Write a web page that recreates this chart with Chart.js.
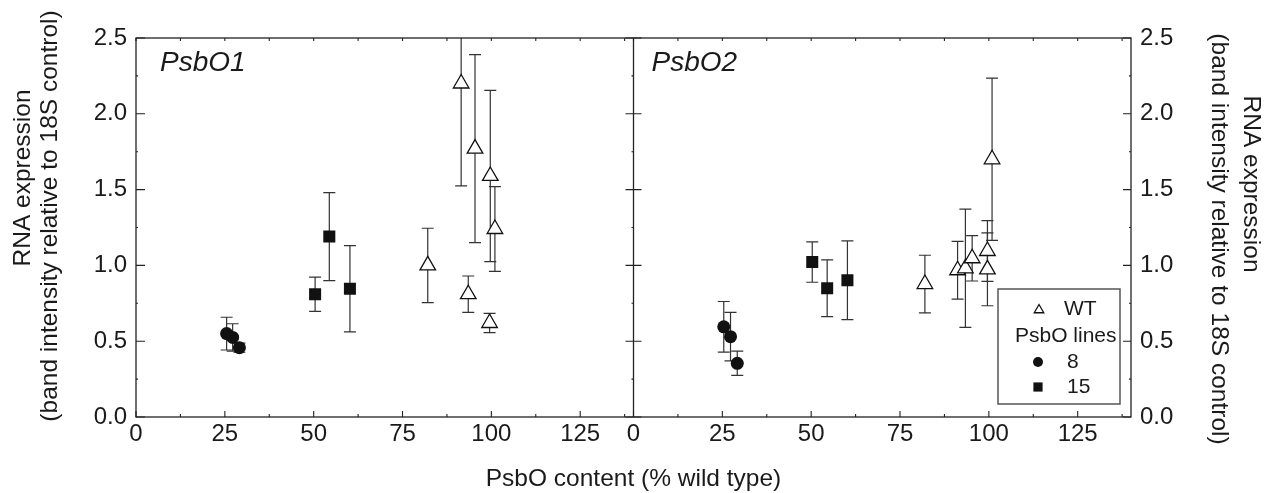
<!DOCTYPE html>
<html><head><meta charset="utf-8">
<script src="https://cdn.jsdelivr.net/npm/chart.js@4.4.1/dist/chart.umd.min.js"></script>
<style>html,body{margin:0;padding:0;background:#fff}canvas{display:block}</style>
</head><body>
<canvas id="c" width="1272" height="493"></canvas>
<script>
// ---------- data ----------
const panelLabels = ['PsbO1', 'PsbO2'];
const xTickValues = [0, 25, 50, 75, 100, 125];
const xMinorTickValues = [12.5, 37.5, 62.5, 87.5, 112.5, 137.5];
const yTickValues = [0, 0.5, 1, 1.5, 2, 2.5];
const yMinorTickValues = [0.25, 0.75, 1.25, 1.75, 2.25];

// PsbO1 panel
const p1WtX  = [82.1, 91.5, 95.4, 99.7, 101.0, 93.5, 99.5];
const p1WtY  = [1.00, 2.20, 1.77, 1.59, 1.24, 0.81, 0.62];
const p1WtErr = [0.245, 0.675, 0.62, 0.565, 0.28, 0.12, 0.063];
const p1L8X  = [25.5, 27.2, 29.1];
const p1L8Y  = [0.55, 0.525, 0.457];
const p1L8Err = [0.108, 0.09, 0.03];
const p1L15X = [50.4, 54.4, 60.2];
const p1L15Y = [0.81, 1.19, 0.846];
const p1L15Err = [0.113, 0.29, 0.285];

// PsbO2 panel
const p2WtX  = [82.0, 91.2, 93.4, 95.3, 99.6, 99.6, 100.9];
const p2WtY  = [0.877, 0.968, 0.981, 1.047, 1.095, 0.974, 1.70];
const p2WtErr = [0.19, 0.19, 0.39, 0.15, 0.20, 0.24, 0.535];
const p2L8X  = [25.4, 27.3, 29.2];
const p2L8Y  = [0.595, 0.53, 0.354];
const p2L8Err = [0.167, 0.16, 0.08];
const p2L15X = [50.3, 54.5, 60.2];
const p2L15Y = [1.022, 0.849, 0.902];
const p2L15Err = [0.133, 0.187, 0.26];

const legendLabels = ['WT', 'PsbO lines', '8', '15'];
const xTitle = 'PsbO content (% wild type)';
const yTitleLines = ['RNA expression', '(band intensity relative to 18S control)'];

// ---------- build ----------
const FONT = "'Liberation Sans', Arial, Helvetica, sans-serif";
Chart.defaults.font.family = FONT;
Chart.defaults.color = '#1a1a1a';

function pts(xs, ys) { return xs.map((x, i) => ({x: x, y: ys[i]})); }

const styleWT  = {pointStyle: 'triangle', pointRadius: 9, pointBackgroundColor: '#fff', pointBorderColor: '#111', pointBorderWidth: 1.3};
const styleL8  = {pointStyle: 'circle', pointRadius: 6.5, pointBackgroundColor: '#111', pointBorderColor: '#111', pointBorderWidth: 0};
const styleL15 = {pointStyle: 'rect', pointRadius: 8.5, pointBackgroundColor: '#111', pointBorderColor: '#111', pointBorderWidth: 0};

function ds(label, xs, ys, errs, style, xId, yId) {
  return Object.assign({label: label, data: pts(xs, ys), errors: errs, xAxisID: xId, yAxisID: yId,
    showLine: false, pointHoverRadius: style.pointRadius}, style);
}

const datasets = [
  ds('WT', p1WtX, p1WtY, p1WtErr, styleWT, 'x1', 'y'),
  ds('8', p1L8X, p1L8Y, p1L8Err, styleL8, 'x1', 'y'),
  ds('15', p1L15X, p1L15Y, p1L15Err, styleL15, 'x1', 'y'),
  ds('WT', p2WtX, p2WtY, p2WtErr, styleWT, 'x2', 'y2'),
  ds('8', p2L8X, p2L8Y, p2L8Err, styleL8, 'x2', 'y2'),
  ds('15', p2L15X, p2L15Y, p2L15Err, styleL15, 'x2', 'y2')
];

const LINE = '#222';

const errorBars = {
  id: 'errorBars',
  beforeDatasetsDraw(chart) {
    const ctx = chart.ctx, ca = chart.chartArea;
    ctx.save();
    ctx.beginPath();
    ctx.rect(ca.left, ca.top, ca.right - ca.left, ca.bottom - ca.top);
    ctx.clip();
    ctx.strokeStyle = '#333';
    ctx.lineWidth = 1.2;
    chart.data.datasets.forEach(d => {
      const xs = chart.scales[d.xAxisID], ys = chart.scales[d.yAxisID];
      d.data.forEach((p, i) => {
        const e = d.errors[i];
        const px = xs.getPixelForValue(p.x);
        const yt = ys.getPixelForValue(p.y + e);
        const yb = ys.getPixelForValue(p.y - e);
        ctx.beginPath();
        ctx.moveTo(px, yt); ctx.lineTo(px, yb);
        ctx.moveTo(px - 6, yt); ctx.lineTo(px + 6, yt);
        ctx.moveTo(px - 6, yb); ctx.lineTo(px + 6, yb);
        ctx.stroke();
      });
    });
    ctx.restore();
  }
};

function drawSym(ctx, style, x, y, r) {
  if (Chart.helpers && Chart.helpers.drawPoint) {
    ctx.save();
    ctx.fillStyle = style.pointBackgroundColor;
    ctx.strokeStyle = style.pointBorderColor;
    ctx.lineWidth = style.pointBorderWidth;
    Chart.helpers.drawPoint(ctx, {pointStyle: style.pointStyle, radius: r, rotation: 0, borderWidth: style.pointBorderWidth}, x, y);
    ctx.restore();
  }
}

const frame = {
  id: 'frame',
  afterDatasetsDraw(chart) {
    const ctx = chart.ctx, ca = chart.chartArea;
    const x1 = chart.scales.x1, x2 = chart.scales.x2, y = chart.scales.y;
    const mid = x1.right;
    ctx.save();
    ctx.strokeStyle = LINE;
    ctx.lineWidth = 1.3;
    ctx.strokeRect(ca.left, ca.top, ca.right - ca.left, ca.bottom - ca.top);
    ctx.beginPath();
    ctx.moveTo(mid, ca.top); ctx.lineTo(mid, ca.bottom);
    ctx.stroke();
    ctx.lineWidth = 1.1;
    ctx.beginPath();
    [x1, x2].forEach(xs => {
      xTickValues.forEach(v => {
        const px = xs.getPixelForValue(v);
        ctx.moveTo(px, ca.bottom); ctx.lineTo(px, ca.bottom - 6);
        ctx.moveTo(px, ca.top); ctx.lineTo(px, ca.top + 3);
      });
      xMinorTickValues.forEach(v => {
        const px = xs.getPixelForValue(v);
        ctx.moveTo(px, ca.bottom); ctx.lineTo(px, ca.bottom - 3);
        ctx.moveTo(px, ca.top); ctx.lineTo(px, ca.top + 3);
      });
    });
    yTickValues.forEach(v => {
      const py = y.getPixelForValue(v);
      ctx.moveTo(ca.left, py); ctx.lineTo(ca.left + 9, py);
      ctx.moveTo(mid - 8, py); ctx.lineTo(mid + 8, py);
      ctx.moveTo(ca.right - 8, py); ctx.lineTo(ca.right, py);
    });
    yMinorTickValues.forEach(v => {
      const py = y.getPixelForValue(v);
      ctx.moveTo(ca.left, py); ctx.lineTo(ca.left + 2, py);
      ctx.moveTo(mid - 2, py); ctx.lineTo(mid, py);
      ctx.moveTo(ca.right - 2, py); ctx.lineTo(ca.right, py);
    });
    ctx.stroke();

    // panel labels
    ctx.fillStyle = '#1a1a1a';
    ctx.font = 'italic 28px ' + FONT;
    ctx.textBaseline = 'alphabetic';
    ctx.textAlign = 'left';
    ctx.fillText(panelLabels[0], x1.left + 24, ca.top + 33);
    ctx.fillText(panelLabels[1], x2.left + 18, ca.top + 33);

    // legend
    const bx = ca.right - 133, by = ca.bottom - 128, bw = 122, bh = 115;
    ctx.strokeStyle = '#555';
    ctx.lineWidth = 1.5;
    ctx.strokeRect(bx, by, bw, bh);
    ctx.font = '21px ' + FONT;
    ctx.textBaseline = 'middle';
    ctx.fillStyle = '#1a1a1a';
    drawSym(ctx, styleWT, bx + 41, by + 21, 5.5);
    ctx.fillStyle = '#1a1a1a';
    ctx.fillText(legendLabels[0], bx + 66, by + 20);
    ctx.fillText(legendLabels[1], bx + 17, by + 47);
    drawSym(ctx, styleL8, bx + 40, by + 73, 5);
    ctx.fillStyle = '#1a1a1a';
    ctx.fillText(legendLabels[2], bx + 69, by + 73);
    drawSym(ctx, styleL15, bx + 40, by + 98, 6.5);
    ctx.fillStyle = '#1a1a1a';
    ctx.fillText(legendLabels[3], bx + 69, by + 98);

    // axis titles
    ctx.font = '24.5px ' + FONT;
    ctx.textAlign = 'center';
    ctx.textBaseline = 'middle';
    ctx.fillText(xTitle, (ca.left + ca.right) / 2, 479);
    // left
    ctx.save();
    ctx.translate(23.5, 178); ctx.rotate(-Math.PI / 2); ctx.fillText(yTitleLines[0], 0, 0);
    ctx.restore();
    ctx.save();
    ctx.translate(50, 216); ctx.rotate(-Math.PI / 2); ctx.fillText(yTitleLines[1], 0, 0);
    ctx.restore();
    // right
    ctx.save();
    ctx.translate(1251, 184); ctx.rotate(Math.PI / 2); ctx.fillText(yTitleLines[0], 0, 0);
    ctx.restore();
    ctx.save();
    ctx.translate(1219, 239); ctx.rotate(Math.PI / 2); ctx.fillText(yTitleLines[1], 0, 0);
    ctx.restore();
    ctx.restore();
  }
};

function xScale() {
  return {
    type: 'linear', position: 'bottom', stack: 'xs', stackWeight: 1,
    min: 0, max: 140,
    grid: {display: false, drawTicks: false},
    border: {display: false},
    afterBuildTicks: s => { s.ticks = xTickValues.map(v => ({value: v})); },
    afterFit: s => { s.height = 76; },
    ticks: {autoSkip: false, maxRotation: 0, padding: 3, font: {size: 24}, color: '#1a1a1a',
      callback: v => String(v)}
  };
}
function yScale(pos, w, pad) {
  return {
    type: 'linear', position: pos, min: 0, max: 2.5,
    grid: {display: false, drawTicks: false},
    border: {display: false},
    afterBuildTicks: s => { s.ticks = yTickValues.map(v => ({value: v})); },
    afterFit: s => { s.width = w; },
    ticks: {padding: pad, font: {size: 24}, color: '#1a1a1a', callback: v => Number(v).toFixed(1)}
  };
}

new Chart(document.getElementById('c'), {
  type: 'scatter',
  data: {datasets: datasets},
  options: {
    responsive: false,
    devicePixelRatio: 1,
    animation: false,
    layout: {padding: {top: 38, left: 0, right: 0, bottom: 0}},
    plugins: {legend: {display: false}, tooltip: {enabled: false}, title: {display: false}},
    scales: {
      x1: xScale(),
      x2: xScale(),
      y: yScale('left', 136, 9),
      y2: yScale('right', 141, 9)
    }
  },
  plugins: [errorBars, frame]
});
</script>
</body></html>
